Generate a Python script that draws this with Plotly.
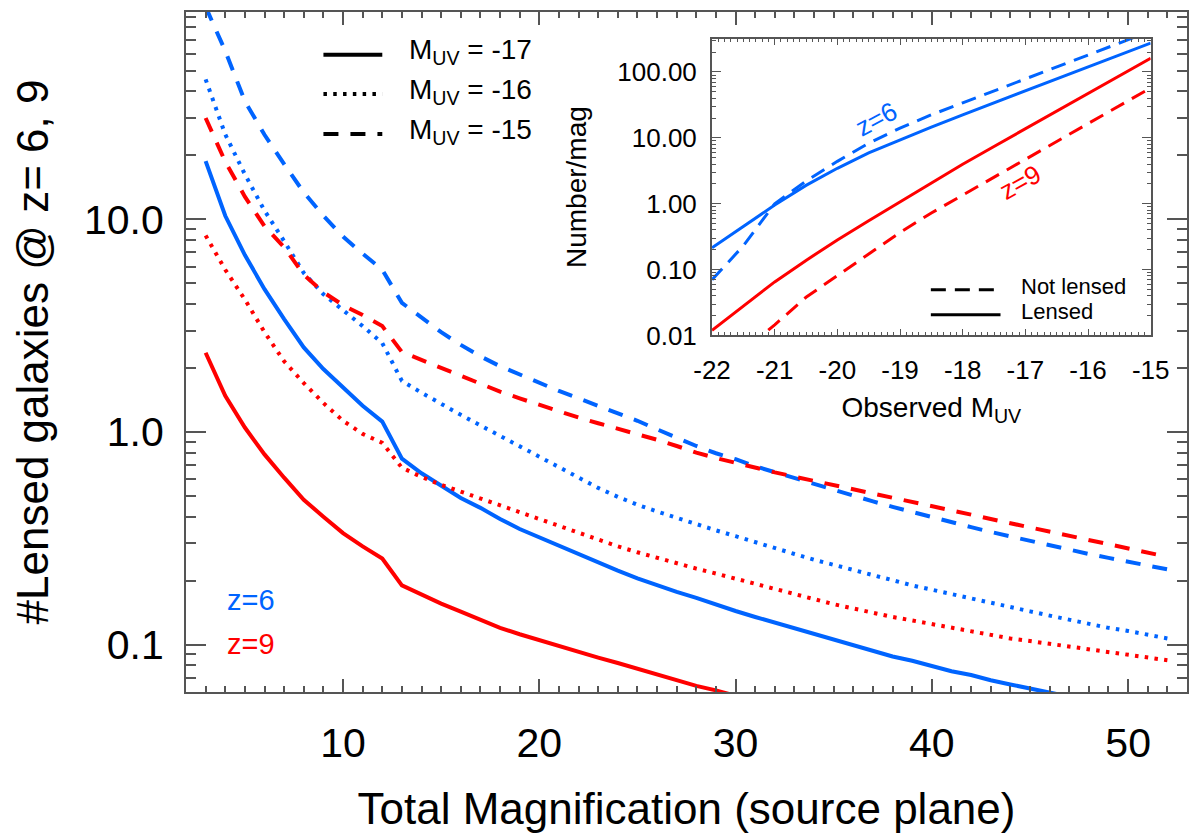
import plotly.graph_objects as go

# ---- main panel: number of lensed galaxies vs total magnification ----
mag = list(range(3, 53))

# M_UV = -17 (solid)
z6_m17 = [18.8, 10.4, 6.8, 4.7, 3.4, 2.5, 1.98, 1.62, 1.33, 1.12,
          0.75, 0.64, 0.56, 0.49, 0.44, 0.39, 0.35, 0.32, 0.29, 0.265,
          0.243, 0.223, 0.205, 0.19, 0.177, 0.166, 0.154, 0.144, 0.135, 0.127,
          0.119, 0.112, 0.105, 0.099, 0.093, 0.088, 0.084, 0.079, 0.075, 0.072,
          0.068, 0.065, 0.062, 0.0595, 0.057]
z9_m17 = [2.36, 1.48, 1.05, 0.785, 0.61, 0.48, 0.40, 0.335, 0.29, 0.254,
          0.19, 0.172, 0.156, 0.143, 0.131, 0.120, 0.112, 0.105, 0.099, 0.092,
          0.087, 0.082, 0.077, 0.073, 0.068, 0.064, 0.061, 0.0575]

# M_UV = -16 (dotted)
z6_m16 = [45.6, 25.1, 16.3, 11.0, 7.9, 5.6, 4.45, 3.75, 3.15, 2.62,
          1.74, 1.53, 1.35, 1.205, 1.074, 0.959, 0.855, 0.764, 0.681, 0.608,
          0.546, 0.496, 0.455, 0.423, 0.394, 0.368, 0.345, 0.324, 0.303, 0.284,
          0.267, 0.251, 0.238, 0.225, 0.213, 0.201, 0.19, 0.181, 0.173, 0.165,
          0.157, 0.15, 0.1435, 0.137, 0.131, 0.125, 0.12, 0.116, 0.111, 0.107]
z9_m16 = [8.4, 5.8, 4.2, 2.95, 2.15, 1.7, 1.37, 1.13, 0.98, 0.89,
          0.68, 0.615, 0.565, 0.525, 0.487, 0.452, 0.42, 0.39, 0.36, 0.335,
          0.311, 0.29, 0.272, 0.256, 0.242, 0.228, 0.216, 0.204, 0.193, 0.183,
          0.172, 0.163, 0.155, 0.148, 0.141, 0.135, 0.13, 0.125, 0.12, 0.115,
          0.111, 0.107, 0.104, 0.101, 0.098, 0.0945, 0.092, 0.0895, 0.087, 0.0845]

# M_UV = -15 (dashed)
z6_m15 = [100, 62, 36, 25, 18.2, 13.4, 10.4, 8.3, 6.9, 5.8,
          4.05, 3.45, 2.95, 2.57, 2.27, 2.04, 1.86, 1.7, 1.56, 1.44,
          1.33, 1.23, 1.13, 1.03, 0.94, 0.86, 0.795, 0.745, 0.69, 0.647,
          0.607, 0.57, 0.535, 0.502, 0.472, 0.445, 0.42, 0.397, 0.376, 0.357,
          0.339, 0.323, 0.307, 0.292, 0.279, 0.267, 0.256, 0.246, 0.236, 0.226]
z9_m15 = [30, 18.7, 12.8, 9.3, 7.4, 5.5, 4.55, 3.95, 3.55, 3.15,
          2.38, 2.18, 2.0, 1.84, 1.69, 1.55, 1.44, 1.34, 1.25, 1.17,
          1.1, 1.04, 0.98, 0.92, 0.86, 0.80, 0.755, 0.715, 0.678, 0.646,
          0.617, 0.59, 0.563, 0.538, 0.514, 0.491, 0.469, 0.448, 0.428, 0.409,
          0.39, 0.373, 0.356, 0.34, 0.325, 0.31, 0.296, 0.283, 0.271, 0.259]

# ---- inset: number per mag vs observed M_UV ----
m_obs = [-22, -21.5, -21, -20.5, -20, -19.5, -19, -18.5, -18,
         -17.5, -17, -16.5, -16, -15.5, -15]
z6_lensed = [0.214, 0.457, 0.955, 1.9, 3.45, 5.9, 9.33, 14.5, 22.4,
             33.9, 51.3, 77.6, 117, 180, 275]
z6_unlensed = [0.07, 0.23, 1.0, 2.2, 4.4, 8.3, 14.1, 22.4, 34,
               51.8, 78.7, 120, 182, 275, 417]
z9_lensed = [0.012, 0.028, 0.065, 0.138, 0.282, 0.55, 1.07, 2.09, 3.98,
             7.41, 13.8, 25.7, 47.9, 89.1, 162]
z9_unlensed = [0.0025, 0.0058, 0.0145, 0.038, 0.081, 0.174, 0.366, 0.724, 1.35,
               2.51, 4.68, 8.71, 16.2, 30.5, 57.3]

BLUE = "#0064ff"
RED = "#ff0000"
AXC = "#555555"
FONT = "Liberation Sans"

DOT = "3.5px,6.3px"
DASH = "15px,12px"
DASH_IN = "15px,9px"

fig = go.Figure()

main_series = [
    (z6_m17, BLUE, "solid"), (z6_m16, BLUE, DOT), (z6_m15, BLUE, DASH),
    (z9_m17, RED, "solid"), (z9_m16, RED, DOT), (z9_m15, RED, DASH),
]
for ys, col, dash in main_series:
    fig.add_trace(go.Scatter(x=mag[:len(ys)], y=ys, mode="lines",
                             line=dict(color=col, width=4, dash=dash),
                             showlegend=False, hoverinfo="skip"))

inset_series = [
    (z6_lensed, BLUE, "solid"), (z6_unlensed, BLUE, DASH_IN),
    (z9_lensed, RED, "solid"), (z9_unlensed, RED, DASH_IN),
]
for ys, col, dash in inset_series:
    fig.add_trace(go.Scatter(x=m_obs, y=ys, mode="lines", xaxis="x2", yaxis="y2",
                             line=dict(color=col, width=3, dash=dash),
                             showlegend=False, hoverinfo="skip"))

# main legend (line samples + labels)
for dash, y, lab in [("solid", 0.9372, "-17"), (DOT, 0.8794, "-16"), (DASH, 0.8206, "-15")]:
    fig.add_shape(type="line", xref="paper", yref="paper", x0=0.1373, x1=0.1961,
                  y0=y, y1=y, line=dict(color="black", width=4, dash=dash))
    fig.add_annotation(xref="paper", yref="paper", x=0.2206, y=y + 0.004,
                       xanchor="left", yanchor="middle", showarrow=False,
                       text="M<sub>UV</sub> = " + lab,
                       font=dict(family=FONT, size=28, color="black"))

# inset legend
for dash, y, lab in [(DASH_IN, 0.5916, "Not lensed"), ("solid", 0.5549, "Lensed")]:
    fig.add_shape(type="line", xref="paper", yref="paper", x0=0.7441, x1=0.8137,
                  y0=y, y1=y, line=dict(color="black", width=3, dash=dash))
    fig.add_annotation(xref="paper", yref="paper", x=0.8324, y=y + 0.005,
                       xanchor="left", yanchor="middle", showarrow=False, text=lab,
                       font=dict(family=FONT, size=22, color="black"))

# redshift labels
fig.add_annotation(xref="paper", yref="paper", x=0.039, y=0.135, xanchor="left",
                   yanchor="middle", showarrow=False, text="z=6",
                   font=dict(family=FONT, size=29, color=BLUE))
fig.add_annotation(xref="paper", yref="paper", x=0.039, y=0.0706, xanchor="left",
                   yanchor="middle", showarrow=False, text="z=9",
                   font=dict(family=FONT, size=29, color=RED))
fig.add_annotation(xref="paper", yref="paper", x=0.7186, y=0.8809, showarrow=False,
                   text="z=6", textangle=-28,
                   font=dict(family=FONT, size=26, color=BLUE))
fig.add_annotation(xref="paper", yref="paper", x=0.8627, y=0.7882, showarrow=False,
                   text="z=9", textangle=-29,
                   font=dict(family=FONT, size=26, color=RED))

tick_common = dict(ticks="inside", mirror="allticks", showline=True, linecolor=AXC,
                   linewidth=2, tickcolor=AXC, showgrid=False, zeroline=False)

fig.update_layout(
    width=1200, height=834,
    margin=dict(l=178, r=2, t=4, b=150),
    paper_bgcolor="white", plot_bgcolor="white",
    font=dict(family=FONT, color="black"),
    xaxis=dict(range=[2, 53], tick0=0, dtick=10, ticklen=13, tickwidth=1.5,
               minor=dict(dtick=1, ticks="inside", ticklen=6, tickcolor=AXC, tickwidth=1.5),
               tickfont=dict(size=41), ticklabelstandoff=14,
               title=dict(text="Total Magnification (source plane)",
                          font=dict(size=44), standoff=28),
               **tick_common),
    yaxis=dict(type="log", range=[-1.2225, 1.9755], tick0=0, dtick=1,
               tickformat=".1f", ticklen=20, tickwidth=1.5,
               minor=dict(dtick="D1", ticks="inside", ticklen=10, tickcolor=AXC, tickwidth=1.5),
               tickfont=dict(size=41), ticklabelstandoff=12,
               title=dict(text="#Lensed galaxies @ z= 6, 9",
                          font=dict(size=44), standoff=38),
               **tick_common),
    xaxis2=dict(domain=[0.5255, 0.9637], anchor="y2", range=[-22, -15],
                tickmode="array", tickvals=list(range(-22, -14)),
                ticktext=[str(v) for v in range(-22, -14)],
                ticklen=6, tickwidth=1.2,
                minor=dict(dtick=0.1, tick0=-22, ticks="inside", ticklen=3,
                           tickcolor=AXC, tickwidth=1.2),
                tickfont=dict(size=26), ticklabelstandoff=10,
                title=dict(text="Observed M<sub>UV</sub>", font=dict(size=28), standoff=14),
                **tick_common),
    yaxis2=dict(domain=[0.5243, 0.9607], anchor="x2", type="log", range=[-2, 2.505],
                tick0=0, dtick=1, tickformat=".2f", ticklen=9, tickwidth=1.2,
                minor=dict(dtick="D1", ticks="inside", ticklen=4, tickcolor=AXC, tickwidth=1.2),
                tickfont=dict(size=26), ticklabelstandoff=8,
                title=dict(text="Number/mag", font=dict(size=28), standoff=22),
                **tick_common),
)

fig.write_html("out.html")
